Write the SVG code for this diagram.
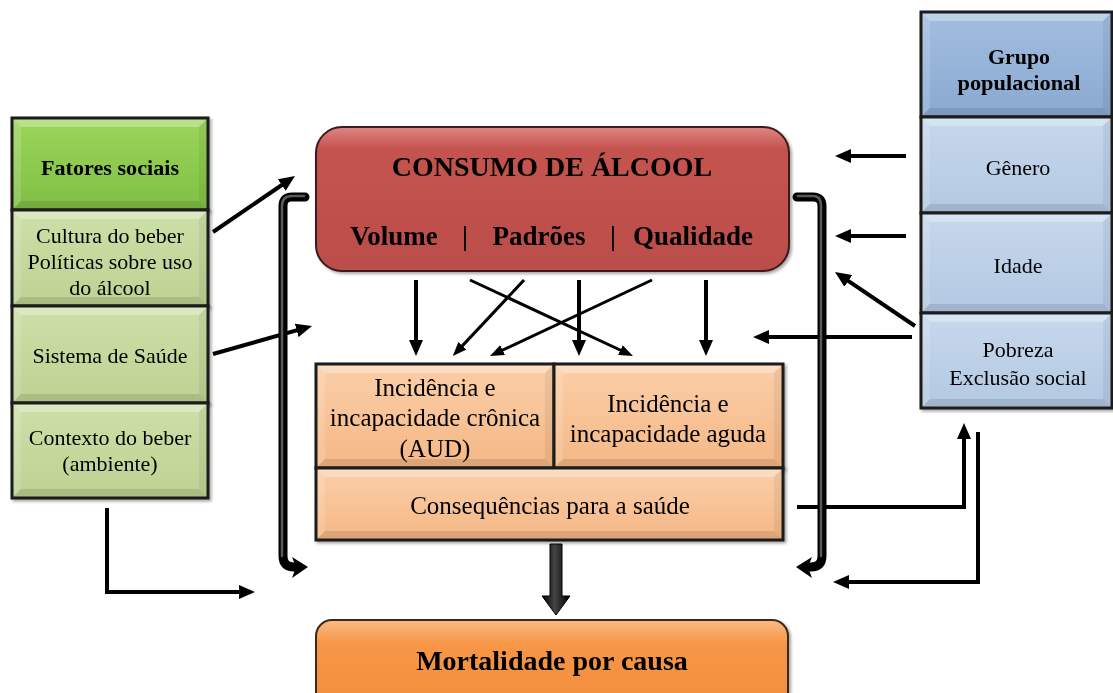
<svg xmlns="http://www.w3.org/2000/svg" width="1113" height="693" viewBox="0 0 1113 693">
<style>
.t{font-family:"Liberation Serif","Times New Roman",serif;fill:#000;text-anchor:middle}
.r22{font-size:22px}
.r25{font-size:25px}
.b{font-weight:bold}
.box{stroke:#1a1a1a;stroke-width:3;fill:none}
.bt{fill:#fff;opacity:.3}
.bl{fill:#fff;opacity:.15}
.br{fill:#000;opacity:.06}
.bb{fill:#000;opacity:.1}
.c4{stroke:#000;stroke-width:4;fill:none;marker-end:url(#a)}
.c3{stroke:#000;stroke-width:3;fill:none;marker-end:url(#s)}
.tube{stroke:#000;stroke-width:9;fill:none;stroke-linecap:round;stroke-linejoin:round}
.tubeh{stroke:#5a5a5a;stroke-width:2.5;fill:none;stroke-linecap:round}
</style>
<defs>
<linearGradient id="gGH" x1="0" y1="0" x2="0" y2="1"><stop offset="0" stop-color="#9cd65c"/><stop offset="1" stop-color="#80be44"/></linearGradient>
<linearGradient id="gG" x1="0" y1="0" x2="0" y2="1"><stop offset="0" stop-color="#cde0a8"/><stop offset="1" stop-color="#bdd292"/></linearGradient>
<linearGradient id="gBH" x1="0" y1="0" x2="0" y2="1"><stop offset="0" stop-color="#a2bee0"/><stop offset="1" stop-color="#8aa9d0"/></linearGradient>
<linearGradient id="gB" x1="0" y1="0" x2="0" y2="1"><stop offset="0" stop-color="#c6d8ec"/><stop offset="1" stop-color="#b3c8e2"/></linearGradient>
<linearGradient id="gP" x1="0" y1="0" x2="0" y2="1"><stop offset="0" stop-color="#fbcfa9"/><stop offset="1" stop-color="#f5b785"/></linearGradient>
<linearGradient id="gR" x1="0" y1="0" x2="0" y2="1"><stop offset="0" stop-color="#e08682"/><stop offset="0.15" stop-color="#c4534f"/><stop offset="1" stop-color="#bb4e4b"/></linearGradient>
<linearGradient id="gO" x1="0" y1="0" x2="0" y2="1"><stop offset="0" stop-color="#fbbb85"/><stop offset="0.25" stop-color="#f79646"/><stop offset="1" stop-color="#f08d3e"/></linearGradient>
<linearGradient id="gArr" x1="0" y1="0" x2="1" y2="0"><stop offset="0" stop-color="#000"/><stop offset="0.45" stop-color="#444"/><stop offset="1" stop-color="#000"/></linearGradient>
<filter id="sh" x="-5%" y="-5%" width="115%" height="115%"><feDropShadow dx="2" dy="2" stdDeviation="1.5" flood-color="#000" flood-opacity="0.35"/></filter>
<marker id="a" viewBox="0 0 16 14" markerWidth="16" markerHeight="14" markerUnits="userSpaceOnUse" refX="9" refY="7" orient="auto"><path d="M0,0 L16,7 L0,14 Z" fill="#000"/></marker>
<marker id="s" viewBox="0 0 14 11" markerWidth="14" markerHeight="11" markerUnits="userSpaceOnUse" refX="8" refY="5.5" orient="auto"><path d="M0,0 L14,5.5 L0,11 Z" fill="#000"/></marker>
</defs>
<rect width="1113" height="693" fill="#fff"/>

<g id="fatores-sociais" filter="url(#sh)">
<rect x="12" y="118" width="196" height="92" fill="url(#gGH)"/>
<polygon class="bt" points="12,118 208,118 199,127 21,127"/><polygon class="bl" points="12,118 21,127 21,201 12,210"/><polygon class="br" points="208,118 208,210 199,201 199,127"/><polygon class="bb" points="12,210 208,210 199,201 21,201"/>
<rect class="box" x="12" y="118" width="196" height="92"/>
<text class="t b" x="110" y="175" font-size="20" textLength="138" lengthAdjust="spacingAndGlyphs">Fatores sociais</text>
</g>
<g id="cultura" filter="url(#sh)">
<rect x="12" y="210" width="196" height="96" fill="url(#gG)"/>
<polygon class="bt" points="12,210 208,210 199,219 21,219"/><polygon class="bl" points="12,210 21,219 21,297 12,306"/><polygon class="br" points="208,210 208,306 199,297 199,219"/><polygon class="bb" points="12,306 208,306 199,297 21,297"/>
<rect class="box" x="12" y="210" width="196" height="96"/>
<text class="t r22" x="110" y="243">Cultura do beber</text>
<text class="t r22" x="110" y="269">Políticas sobre uso</text>
<text class="t r22" x="110" y="295">do álcool</text>
</g>
<g id="sistema" filter="url(#sh)">
<rect x="12" y="306" width="196" height="97" fill="url(#gG)"/>
<polygon class="bt" points="12,306 208,306 199,315 21,315"/><polygon class="bl" points="12,306 21,315 21,394 12,403"/><polygon class="br" points="208,306 208,403 199,394 199,315"/><polygon class="bb" points="12,403 208,403 199,394 21,394"/>
<rect class="box" x="12" y="306" width="196" height="97"/>
<text class="t r22" x="110" y="363">Sistema de Saúde</text>
</g>
<g id="contexto" filter="url(#sh)">
<rect x="12" y="403" width="196" height="95" fill="url(#gG)"/>
<polygon class="bt" points="12,403 208,403 199,412 21,412"/><polygon class="bl" points="12,403 21,412 21,489 12,498"/><polygon class="br" points="208,403 208,498 199,489 199,412"/><polygon class="bb" points="12,498 208,498 199,489 21,489"/>
<rect class="box" x="12" y="403" width="196" height="95"/>
<text class="t r22" x="110" y="445">Contexto do beber</text>
<text class="t r22" x="110" y="471">(ambiente)</text>
</g>

<g id="grupo-populacional" filter="url(#sh)">
<rect x="921" y="12" width="191" height="105" fill="url(#gBH)"/>
<polygon class="bt" points="921,12 1112,12 1103,21 930,21"/><polygon class="bl" points="921,12 930,21 930,108 921,117"/><polygon class="br" points="1112,12 1112,117 1103,108 1103,21"/><polygon class="bb" points="921,117 1112,117 1103,108 930,108"/>
<rect class="box" x="921" y="12" width="191" height="105"/>
<text class="t b" x="1019" y="64" font-size="21" textLength="62" lengthAdjust="spacingAndGlyphs">Grupo</text>
<text class="t b" x="1019" y="90" font-size="21" textLength="123" lengthAdjust="spacingAndGlyphs">populacional</text>
</g>
<g id="genero" filter="url(#sh)">
<rect x="921" y="117" width="191" height="96" fill="url(#gB)"/>
<polygon class="bt" points="921,117 1112,117 1103,126 930,126"/><polygon class="bl" points="921,117 930,126 930,204 921,213"/><polygon class="br" points="1112,117 1112,213 1103,204 1103,126"/><polygon class="bb" points="921,213 1112,213 1103,204 930,204"/>
<rect class="box" x="921" y="117" width="191" height="96"/>
<text class="t r22" x="1018" y="175">Gênero</text>
</g>
<g id="idade" filter="url(#sh)">
<rect x="921" y="213" width="191" height="100" fill="url(#gB)"/>
<polygon class="bt" points="921,213 1112,213 1103,222 930,222"/><polygon class="bl" points="921,213 930,222 930,304 921,313"/><polygon class="br" points="1112,213 1112,313 1103,304 1103,222"/><polygon class="bb" points="921,313 1112,313 1103,304 930,304"/>
<rect class="box" x="921" y="213" width="191" height="100"/>
<text class="t r22" x="1018" y="273">Idade</text>
</g>
<g id="pobreza" filter="url(#sh)">
<rect x="921" y="313" width="191" height="95" fill="url(#gB)"/>
<polygon class="bt" points="921,313 1112,313 1103,322 930,322"/><polygon class="bl" points="921,313 930,322 930,399 921,408"/><polygon class="br" points="1112,313 1112,408 1103,399 1103,322"/><polygon class="bb" points="921,408 1112,408 1103,399 930,399"/>
<rect class="box" x="921" y="313" width="191" height="95"/>
<text class="t r22" x="1018" y="357">Pobreza</text>
<text class="t r22" x="1018" y="385">Exclusão social</text>
</g>

<g id="consumo" filter="url(#sh)">
<rect x="316" y="127" width="473" height="144" rx="26" fill="url(#gR)" stroke="#3a1a1a" stroke-width="2"/>
<text class="t b" x="552" y="176" font-size="28">CONSUMO DE ÁLCOOL</text>
<text class="t b" x="394" y="245" font-size="27">Volume</text>
<text class="t b" x="465" y="245" font-size="27">|</text>
<text class="t b" x="539" y="245" font-size="27">Padrões</text>
<text class="t b" x="613" y="245" font-size="27">|</text>
<text class="t b" x="693" y="245" font-size="27">Qualidade</text>
</g>

<g id="cronica" filter="url(#sh)">
<rect x="316" y="364" width="238" height="104" fill="url(#gP)"/>
<polygon class="bt" points="316,364 554,364 545,373 325,373"/><polygon class="bl" points="316,364 325,373 325,459 316,468"/><polygon class="br" points="554,364 554,468 545,459 545,373"/><polygon class="bb" points="316,468 554,468 545,459 325,459"/>
<rect class="box" x="316" y="364" width="238" height="104"/>
<text class="t r25" x="435" y="396">Incidência e</text>
<text class="t r25" x="435" y="426">incapacidade crônica</text>
<text class="t r25" x="435" y="457">(AUD)</text>
</g>
<g id="aguda" filter="url(#sh)">
<rect x="554" y="364" width="229" height="104" fill="url(#gP)"/>
<polygon class="bt" points="554,364 783,364 774,373 563,373"/><polygon class="bl" points="554,364 563,373 563,459 554,468"/><polygon class="br" points="783,364 783,468 774,459 774,373"/><polygon class="bb" points="554,468 783,468 774,459 563,459"/>
<rect class="box" x="554" y="364" width="229" height="104"/>
<text class="t r25" x="668" y="412">Incidência e</text>
<text class="t r25" x="668" y="442">incapacidade aguda</text>
</g>
<g id="consequencias" filter="url(#sh)">
<rect x="316" y="468" width="467" height="72" fill="url(#gP)"/>
<polygon class="bt" points="316,468 783,468 774,477 325,477"/><polygon class="bl" points="316,468 325,477 325,531 316,540"/><polygon class="br" points="783,468 783,540 774,531 774,477"/><polygon class="bb" points="316,540 783,540 774,531 325,531"/>
<rect class="box" x="316" y="468" width="467" height="72"/>
<text class="t r25" x="550" y="514">Consequências para a saúde</text>
</g>

<g id="mortalidade" filter="url(#sh)">
<rect x="316" y="620" width="472" height="95" rx="16" fill="url(#gO)" stroke="#3a2a1a" stroke-width="2"/>
<text class="t b" x="552" y="670" font-size="28">Mortalidade por causa</text>
</g>

<g id="connectors">
<path class="c4" d="M213,232 L289.2,180"/>
<path class="c4" d="M213,354 L305.3,327.9"/>
<path class="c4" d="M107,508 V592 H248"/>
<path class="c4" d="M416,280 V349"/>
<path class="c4" d="M579,280 V349"/>
<path class="c4" d="M706,280 V349"/>
<path class="c3" d="M470,280 L627.6,353.5"/>
<path class="c3" d="M524,280 L456.9,351.6"/>
<path class="c3" d="M652,280 L495.4,353.5"/>
<path class="c4" d="M906,156 H842"/>
<path class="c4" d="M906,236 H842"/>
<path class="c4" d="M915,326 L840.8,275.9"/>
<path class="c4" d="M912,337 H760"/>
<path class="c4" d="M797,507 H964 V430"/>
<path class="c4" d="M978,432 V582 H840"/>
<path class="tube" d="M305,197 H292 Q283,197 283,206 V556 Q283,567 294,567"/>
<path class="tubeh" d="M304,196 H292 Q282,196 282,206 V556"/>
<polygon points="292,557 308,567 292,578 296,567" fill="#000"/>
<path class="tube" d="M797,197 H813 Q822,197 822,206 V556 Q822,567 811,567"/>
<path class="tubeh" d="M798,196 H813 Q821,196 821,206 V556"/>
<polygon points="812,557 796,567 812,578 808,567" fill="#000"/>
<path d="M550,544 H562 V596 H570 L556,615 L542,596 H550 Z" fill="url(#gArr)" stroke="#000" stroke-width="1"/>
</g>
</svg>
